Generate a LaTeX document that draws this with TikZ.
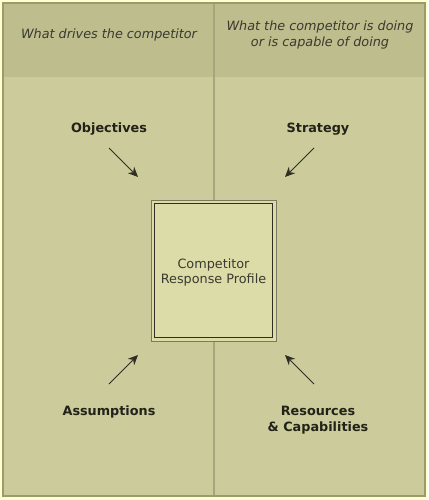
\documentclass[tikz,border=0pt]{standalone}
\usepackage{fontspec}
\setmainfont{DejaVu Sans}
\definecolor{pagebg}{HTML}{FFFFD2}
\definecolor{frame}{HTML}{9C9C6A}
\definecolor{headfill}{HTML}{BDBD8D}
\definecolor{bodyfill}{HTML}{CBCB9B}
\definecolor{divider}{HTML}{A6A67C}
\definecolor{boxfill}{HTML}{DCDCA8}
\definecolor{boxouter}{HTML}{7A7A60}
\definecolor{boxinner}{HTML}{2E2E22}
\definecolor{txt}{HTML}{222218}
\definecolor{headtxt}{HTML}{3A3A30}
\tikzset{
  headlabel/.style={font=\fontsize{12.8}{16.5}\selectfont\itshape, text=headtxt, align=center},
  factor/.style={font=\fontsize{12.8}{16}\selectfont\bfseries, text=txt, align=center},
  centrelabel/.style={font=\fontsize{12.8}{15.5}\selectfont, text=headtxt, align=center},
  arrowline/.style={draw=boxinner, line width=1pt, -{Stealth[length=10pt,width=9pt]}}
}
\usetikzlibrary{arrows.meta}
\begin{document}
\begin{tikzpicture}[x=1pt,y=-1pt]
\useasboundingbox (0,0) rectangle (428,500);
\fill[pagebg] (0,0) rectangle (428,500);
% panels
\fill[bodyfill] (3,3) rectangle (425,496);
\fill[headfill] (3,3) rectangle (425,77);
\draw[divider, line width=1.2pt] (214,3) -- (214,496);
\draw[frame, line width=2pt] (3,3) rectangle (425,496);
% centre box
\node[draw=boxouter, fill=boxfill, line width=1pt, minimum width=125pt, minimum height=141pt, inner sep=0pt] (outerbox) at (213.5,270.5) {};
\node[draw=boxinner, fill=boxfill, line width=1pt, minimum width=118pt, minimum height=134pt, inner sep=0pt] (profile) at (213.5,270.5) {};
\node[centrelabel] (profiletext) at (213.5,272.5) {Competitor\\Response Profile};
% header texts
\node[headlabel] (drives) at (109,35) {What drives the competitor};
\node[headlabel] (doing) at (320,35) {What the competitor is doing\\or is capable of doing};
% factors
\node[factor] (objectives) at (109,129) {Objectives};
\node[factor] (strategy) at (318,129) {Strategy};
\node[factor] (assumptions) at (109,412) {Assumptions};
\node[factor] (resources) at (318,420) {Resources\\\& Capabilities};
% arrow endpoints
\coordinate (o1) at (109,148); \coordinate (o2) at (138,177);
\coordinate (s1) at (314,148); \coordinate (s2) at (285,177);
\coordinate (a1) at (109,384); \coordinate (a2) at (138,355);
\coordinate (r1) at (314,384); \coordinate (r2) at (285,355);
\draw[arrowline] (o1) -- (o2);
\draw[arrowline] (s1) -- (s2);
\draw[arrowline] (a1) -- (a2);
\draw[arrowline] (r1) -- (r2);
\end{tikzpicture}
\end{document}
